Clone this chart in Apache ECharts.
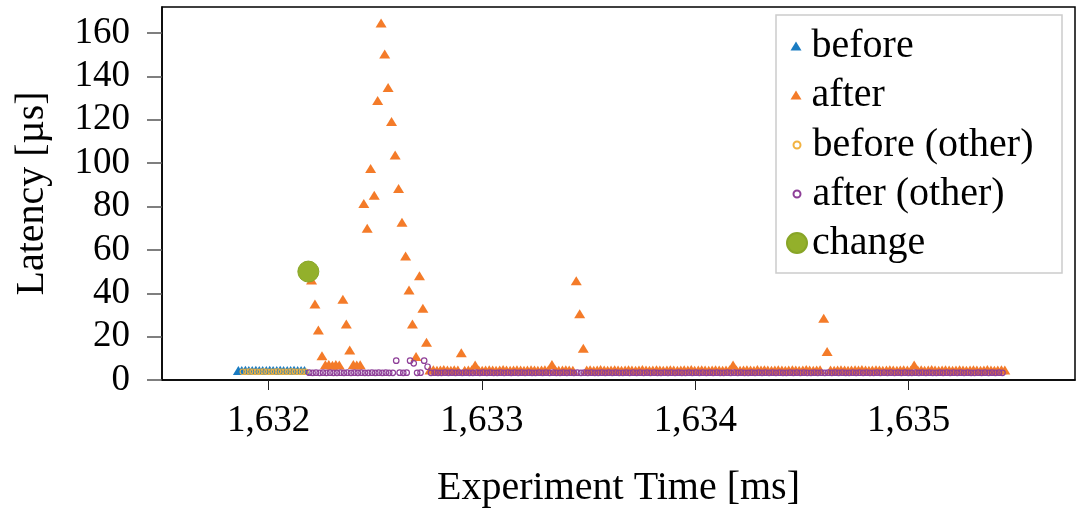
<!DOCTYPE html>
<html>
<head>
<meta charset="utf-8">
<script src="https://cdn.jsdelivr.net/npm/echarts@6/dist/echarts.min.js"></script>
<style>
html,body{margin:0;padding:0;background:#fff;}
#chart{width:1079px;height:508px;}
</style>
</head>
<body>
<div id="chart"></div>
<script>
// ---------- data ----------
const xTicks = [1632, 1633, 1634, 1635];
const yTicks = [0, 20, 40, 60, 80, 100, 120, 140, 160];

const beforeTime = [1631.858,1631.874,1631.891,1631.907,1631.923,1631.940,1631.956,1631.972,1631.989,1632.005,
  1632.021,1632.038,1632.054,1632.070,1632.087,1632.103,1632.119,1632.136,1632.152,1632.168];
const beforeLatency = [4.4,4.4,4.5,4.4,4.4,4.5,4.4,4.4,4.4,4.5,4.4,4.4,4.5,4.4,4.4,4.4,4.5,4.4,4.4,4.4];

const beforeOtherTime = [1631.879,1631.896,1631.912,1631.928,1631.945,1631.961,1631.977,1631.994,1632.010,1632.026,
  1632.043,1632.059,1632.075,1632.092,1632.108,1632.124,1632.141,1632.157,1632.173];
const beforeOtherLatency = [3.8,3.8,3.9,3.8,3.8,3.8,3.9,3.8,3.8,3.8,3.9,3.8,3.8,3.8,3.9,3.8,3.8,3.8,3.8];

const afterTime = [
  1632.201,1632.217,1632.233, 1632.250,1632.266,1632.282, 1632.299,1632.315,1632.331, 1632.348,1632.364,1632.380,
  1632.397,1632.413,1632.429, 1632.446,1632.462,1632.478, 1632.495,1632.511,1632.527, 1632.544,1632.560,1632.576,
  1632.593,1632.609,1632.625, 1632.642,1632.658,1632.674, 1632.691,1632.707,1632.723, 1632.740,1632.756,1632.772,
  1632.789,1632.805,1632.821, 1632.838,1632.854,1632.870, 1632.887,1632.903,1632.919, 1632.936,1632.952,1632.968,
  1632.985,1633.001,1633.017, 1633.034,1633.050,1633.066, 1633.083,1633.099,1633.115, 1633.132,1633.148,1633.164,
  1633.181,1633.197,1633.213, 1633.230,1633.246,1633.262, 1633.279,1633.295,1633.311, 1633.328,1633.344,1633.360,
  1633.377,1633.393,1633.409, 1633.426,1633.442,1633.458, 1633.475,1633.491,1633.507, 1633.524,1633.540,1633.556,
  1633.573,1633.589,1633.605, 1633.622,1633.638,1633.654, 1633.671,1633.687,1633.703, 1633.720,1633.736,1633.752,
  1633.769,1633.785,1633.801, 1633.818,1633.834,1633.850, 1633.867,1633.883,1633.899, 1633.916,1633.932,1633.948,
  1633.965,1633.981,1633.997, 1634.014,1634.030,1634.046, 1634.063,1634.079,1634.095, 1634.112,1634.128,1634.144,
  1634.161,1634.177,1634.193, 1634.210,1634.226,1634.242, 1634.259,1634.275,1634.291, 1634.308,1634.324,1634.340,
  1634.357,1634.373,1634.389, 1634.406,1634.422,1634.438, 1634.455,1634.471,1634.487, 1634.504,1634.520,1634.536,
  1634.553,1634.569,1634.585, 1634.602,1634.618,1634.634, 1634.651,1634.667,1634.683, 1634.700,1634.716,1634.732,
  1634.749,1634.765,1634.781, 1634.798,1634.814,1634.830, 1634.847,1634.863,1634.879, 1634.896,1634.912,1634.928,
  1634.945,1634.961,1634.977, 1634.994,1635.010,1635.026, 1635.043,1635.059,1635.075, 1635.092,1635.108,1635.124,
  1635.141,1635.157,1635.173, 1635.190,1635.206,1635.222, 1635.239,1635.255,1635.271, 1635.288,1635.304,1635.320,
  1635.337,1635.353,1635.369, 1635.386,1635.402,1635.418, 1635.435,1635.451
];
const afterLatency = [
  46.1,35.1,23.1, 11.2,7.0,7.2, 6.8,7.1,6.9, 37.2,25.8,13.8,
  7.1,6.9,7.0, 81.4,70.0,97.5, 85.2,128.9,164.6, 150.3,134.9,119.2,
  103.8,88.3,72.8, 57.2,41.5,25.8, 10.8,48.1,33.1, 17.4,4.6,4.7,
  4.5,4.6,4.8, 4.6,4.5,4.7, 4.6,12.6,4.5, 4.6,4.7,6.9,
  4.6,4.5,4.6, 4.7,4.6,4.5, 4.6,4.8,4.6, 4.5,4.6,4.7,
  4.6,4.5,4.6, 4.7,4.6,4.5, 4.6,4.7,4.6, 7.1,4.6,4.5,
  4.6,4.7,4.6, 4.5,45.8,30.5, 14.6,4.6,4.7, 4.5,4.6,4.8,
  4.6,4.5,4.6, 4.7,4.6,4.5, 4.6,4.7,4.6, 4.5,4.6,4.8,
  4.6,4.5,4.6, 4.7,4.6,4.5, 4.6,4.7,4.6, 4.5,4.6,4.7,
  4.6,4.8,4.5, 4.6,4.7,4.6, 4.5,4.6,4.7, 4.6,4.5,4.6,
  4.7,6.9,4.6, 4.5,4.6,4.7, 4.6,4.5,4.8, 4.6,4.7,4.6,
  4.5,4.6,4.7, 4.6,4.5,4.6, 4.7,4.6,4.5, 4.6,4.8,4.6,
  4.5,4.6,4.7, 28.5,13.1,4.6, 4.5,4.6,4.7, 4.6,4.5,4.6,
  4.7,4.6,4.8, 4.6,4.5,4.6, 4.7,4.6,4.5, 4.6,4.7,4.6,
  4.5,4.6,4.7, 4.6,4.5,6.9, 4.6,4.7,4.5, 4.6,4.8,4.6,
  4.5,4.6,4.7, 4.6,4.5,4.6, 4.7,4.6,4.5, 4.6,4.7,4.6,
  4.5,4.6,4.8, 4.6,4.5,4.6, 4.7,4.6
];

const afterOtherTime = [
  1632.190,1632.206,1632.222, 1632.239,1632.255,1632.271, 1632.288,1632.304,1632.320, 1632.337,1632.353,1632.369,
  1632.386,1632.402,1632.418, 1632.435,1632.451,1632.467, 1632.484,1632.500,1632.516, 1632.533,1632.549,1632.565,
  1632.582,1632.598,1632.614, 1632.631,1632.647,1632.663, 1632.680,1632.696,1632.712, 1632.729,1632.745,1632.761,
  1632.778,1632.794,1632.810, 1632.827,1632.843,1632.859, 1632.876,1632.892,1632.908, 1632.925,1632.941,1632.957,
  1632.974,1632.990,1633.006, 1633.023,1633.039,1633.055, 1633.072,1633.088,1633.104, 1633.121,1633.137,1633.153,
  1633.170,1633.186,1633.202, 1633.219,1633.235,1633.251, 1633.268,1633.284,1633.300, 1633.317,1633.333,1633.349,
  1633.366,1633.382,1633.398, 1633.415,1633.431,1633.447, 1633.464,1633.480,1633.496, 1633.513,1633.529,1633.545,
  1633.562,1633.578,1633.594, 1633.611,1633.627,1633.643, 1633.660,1633.676,1633.692, 1633.709,1633.725,1633.741,
  1633.758,1633.774,1633.790, 1633.807,1633.823,1633.839, 1633.856,1633.872,1633.888, 1633.905,1633.921,1633.937,
  1633.954,1633.970,1633.986, 1634.003,1634.019,1634.035, 1634.052,1634.068,1634.084, 1634.101,1634.117,1634.133,
  1634.150,1634.166,1634.182, 1634.199,1634.215,1634.231, 1634.248,1634.264,1634.280, 1634.297,1634.313,1634.329,
  1634.346,1634.362,1634.378, 1634.395,1634.411,1634.427, 1634.444,1634.460,1634.476, 1634.493,1634.509,1634.525,
  1634.542,1634.558,1634.574, 1634.591,1634.607,1634.623, 1634.640,1634.656,1634.672, 1634.689,1634.705,1634.721,
  1634.738,1634.754,1634.770, 1634.787,1634.803,1634.819, 1634.836,1634.852,1634.868, 1634.885,1634.901,1634.917,
  1634.934,1634.950,1634.966, 1634.983,1634.999,1635.015, 1635.032,1635.048,1635.064, 1635.081,1635.097,1635.113,
  1635.130,1635.146,1635.162, 1635.179,1635.195,1635.211, 1635.228,1635.244,1635.260, 1635.277,1635.293,1635.309,
  1635.326,1635.342,1635.358, 1635.375,1635.391,1635.407, 1635.424,1635.440
];
const afterOtherLatency = [
  3.4,3.3,3.4, 3.3,3.4,3.3, 3.4,3.3,3.3, 3.4,3.3,3.4,
  3.3,3.4,3.3, 3.4,3.3,3.3, 3.4,3.3,3.4, 3.3,3.4,3.3,
  3.3,8.9,3.4, 3.3,3.4,8.9, 7.7,3.3,3.4, 8.9,6.1,3.3,
  3.4,3.3,3.3, 3.4,3.3,3.4, 3.3,3.4,3.3, 3.4,3.3,3.3,
  3.4,3.3,3.4, 3.3,3.4,3.3, 3.3,3.4,3.3, 3.4,3.3,3.4,
  3.3,3.4,3.3, 3.4,3.3,3.3, 3.4,3.3,3.4, 3.3,3.4,3.3,
  3.3,3.4,3.3, 3.4,3.3,3.4, 3.3,3.4,3.3, 3.4,3.3,3.3,
  3.4,3.3,3.4, 3.3,3.4,3.3, 3.3,3.4,3.3, 3.4,3.3,3.4,
  3.3,3.4,3.3, 3.4,3.3,3.3, 3.4,3.3,3.4, 3.3,3.4,3.3,
  3.3,3.4,3.3, 3.4,3.3,3.4, 3.3,3.4,3.3, 3.4,3.3,3.3,
  3.4,3.3,3.4, 3.3,3.4,3.3, 3.3,3.4,3.3, 3.4,3.3,3.4,
  3.3,3.4,3.3, 3.4,3.3,3.3, 3.4,3.3,3.4, 3.3,3.4,3.3,
  3.3,3.4,3.3, 3.4,3.3,3.4, 3.3,3.4,3.3, 3.4,3.3,3.3,
  3.4,3.3,3.4, 3.3,3.4,3.3, 3.3,3.4,3.3, 3.4,3.3,3.4,
  3.3,3.4,3.3, 3.4,3.3,3.3, 3.4,3.3,3.4, 3.3,3.4,3.3,
  3.3,3.4,3.3, 3.4,3.3,3.4, 3.3,3.4,3.3, 3.4,3.3,3.3,
  3.4,3.3,3.4, 3.3,3.4,3.3, 3.4,3.3
];

const changeTime = [1632.186];
const changeLatency = [50];

// ---------- chart ----------
const FONT = 'Liberation Serif';
const COLORS = {
  before: '#1a7cc2',
  after: '#f47b29',
  beforeOther: '#f2b240',
  afterOther: '#8e3f98',
  change: '#93b02b'
};
const pair = (xs, ys) => xs.map((x, i) => [x, ys[i]]);

function legendItem(name, icon, centerY, w, h, padLeft) {
  return {
    data: [{ name: name, icon: icon }],
    left: 796 - w / 2,
    top: centerY - 21,
    itemWidth: w,
    itemHeight: h,
    itemGap: 0,
    padding: 0,
    z: 20,
    selectedMode: false,
    textStyle: { fontFamily: FONT, fontSize: 40, color: '#000', lineHeight: 42, padding: [0, 0, 0, padLeft] }
  };
}

const chart = echarts.init(document.getElementById('chart'), null, { renderer: 'canvas' });
chart.setOption({
  animation: false,
  backgroundColor: '#fff',
  grid: {
    left: 162, right: 4, top: 7, bottom: 128,
    outerBoundsMode: 'none', containLabel: false,
    show: true, borderColor: '#000', borderWidth: 1.5, backgroundColor: 'transparent'
  },
  xAxis: {
    type: 'value',
    min: 1631.5,
    max: 1635.78,
    splitLine: { show: false },
    axisLine: { show: true, onZero: false, lineStyle: { color: '#000', width: 1.5 } },
    axisTick: { show: true, customValues: xTicks, length: 10, lineStyle: { color: '#222', width: 1 } },
    axisLabel: {
      customValues: xTicks, margin: 23, fontFamily: FONT, fontSize: 37, color: '#000',
      formatter: v => Number(v).toLocaleString('en-US')
    },
    name: 'Experiment Time [ms]',
    nameLocation: 'middle',
    nameGap: 88,
    nameTextStyle: { fontFamily: FONT, fontSize: 40, color: '#000' }
  },
  yAxis: {
    type: 'value',
    min: 0,
    max: 172,
    splitLine: { show: false },
    axisLine: { show: true, lineStyle: { color: '#000', width: 1.5 } },
    axisTick: { show: true, customValues: yTicks, length: 15, lineStyle: { color: '#555', width: 1.5 } },
    axisLabel: { customValues: yTicks, margin: 32, fontFamily: FONT, fontSize: 37, color: '#000' },
    name: 'Latency [µs]',
    nameLocation: 'middle',
    nameGap: 110,
    nameTextStyle: { fontFamily: FONT, fontSize: 40, color: '#000' }
  },
  legend: [
    legendItem('before', 'triangle', 46, 11, 9, 5),
    legendItem('after', 'triangle', 95, 11, 9, 5),
    legendItem('before (other)', 'circle', 145, 7, 7, 7),
    legendItem('after (other)', 'circle', 194, 7, 7, 7),
    legendItem('change', 'circle', 243, 20, 20, 0)
  ],
  graphic: [{
    type: 'rect', z: 15,
    shape: { x: 776, y: 15, width: 286, height: 258 },
    style: { fill: '#fff', stroke: '#cccccc', lineWidth: 1.5 }
  }],
  series: [
    {
      name: 'before', type: 'scatter', symbol: 'triangle', symbolSize: [11, 9],
      itemStyle: { color: COLORS.before, opacity: 1 },
      data: pair(beforeTime, beforeLatency)
    },
    {
      name: 'after', type: 'scatter', symbol: 'triangle', symbolSize: [11, 9],
      itemStyle: { color: COLORS.after, opacity: 1 },
      data: pair(afterTime, afterLatency)
    },
    {
      name: 'before (other)', type: 'scatter', symbol: 'circle', symbolSize: 5.5,
      itemStyle: { color: 'transparent', borderColor: COLORS.beforeOther, borderWidth: 1.1, opacity: 1 },
      data: pair(beforeOtherTime, beforeOtherLatency)
    },
    {
      name: 'after (other)', type: 'scatter', symbol: 'circle', symbolSize: 5.5,
      itemStyle: { color: 'transparent', borderColor: COLORS.afterOther, borderWidth: 1.2, opacity: 1 },
      data: pair(afterOtherTime, afterOtherLatency)
    },
    {
      name: 'change', type: 'scatter', symbol: 'circle', symbolSize: 21,
      itemStyle: { color: COLORS.change, borderColor: '#88a527', borderWidth: 1, opacity: 1 },
      data: pair(changeTime, changeLatency)
    }
  ]
});
</script>
</body>
</html>
